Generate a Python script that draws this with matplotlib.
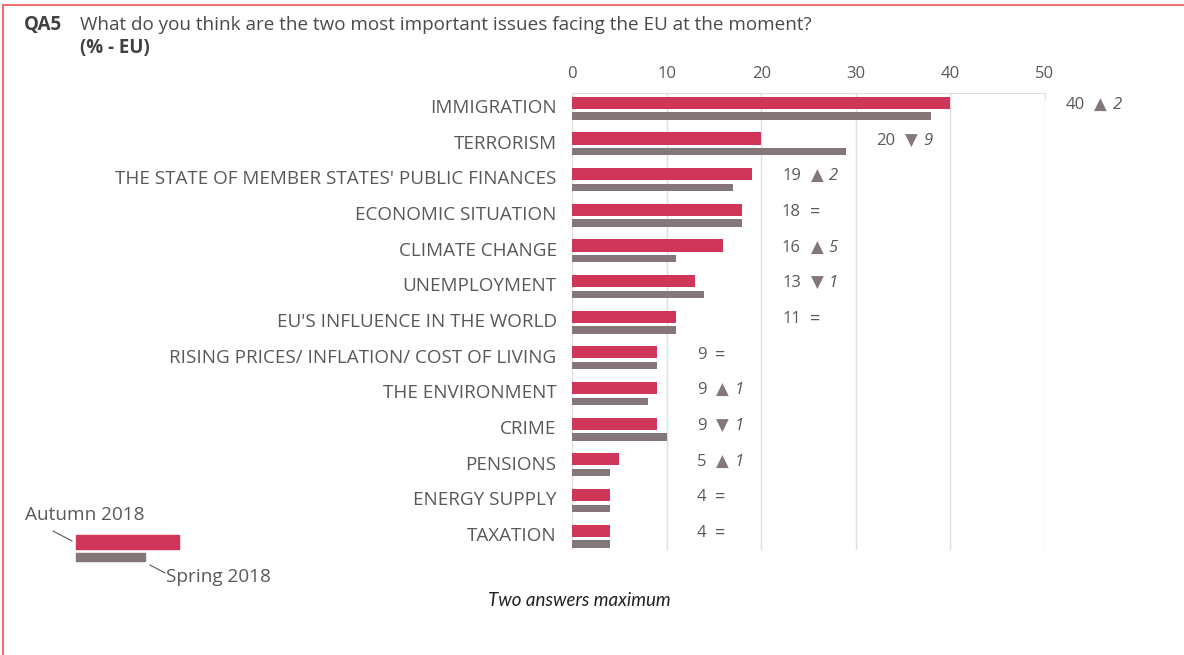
import numpy as np
import matplotlib.pyplot as plt
from matplotlib.patches import Rectangle
from matplotlib.lines import Line2D

# data
issues = ["IMMIGRATION", "TERRORISM", "THE STATE OF MEMBER STATES' PUBLIC FINANCES",
          "ECONOMIC SITUATION", "CLIMATE CHANGE", "UNEMPLOYMENT",
          "EU'S INFLUENCE IN THE WORLD", "RISING PRICES/ INFLATION/ COST OF LIVING",
          "THE ENVIRONMENT", "CRIME", "PENSIONS", "ENERGY SUPPLY", "TAXATION"]
autumn_2018 = [40, 20, 19, 18, 16, 13, 11, 9, 9, 9, 5, 4, 4]
spring_2018 = [38, 29, 17, 18, 11, 14, 11, 9, 8, 10, 4, 4, 4]
change = [2, -9, 2, 0, 5, -1, 0, 0, 1, -1, 1, 0, 0]
ticks = [0, 10, 20, 30, 40, 50]

red = "#D0365A"
grey = "#85767A"
txt = "#595959"
gridc = "#E4DCDC"

plt.rcParams['font.family'] = ['Open Sans', 'DejaVu Sans']

fig = plt.figure(figsize=(11.84, 6.55), dpi=100)
ax = fig.add_axes([572 / 1184, 1 - 550 / 655, (1045 - 572) / 1184, (550 - 93) / 655])

y = np.arange(len(issues))
ax.barh(y - 0.16, autumn_2018, height=0.34, color=red, zorder=3)
ax.barh(y + 0.21, spring_2018, height=0.2, color=grey, zorder=3)

ax.set_xlim(0, 50)
ax.set_ylim(12.38, -0.435)
ax.set_xticks(ticks)
ax.xaxis.tick_top()
ax.tick_params(axis='x', colors=gridc, labelcolor=txt, labelsize=12, length=4, direction='in', pad=8)
# labels sit slightly above the pair centre
ax.set_yticks(y - 0.07)
ax.set_yticklabels(issues)
ax.tick_params(axis='y', length=0, labelsize=13.6, labelcolor=txt, pad=11)
ax.grid(axis='x', color=gridc, linewidth=1, zorder=0)
for s in ["left", "right", "bottom"]:
    ax.spines[s].set_visible(False)
ax.spines["top"].set_color(gridc)

# value labels with change markers
for i in range(len(issues)):
    col = 10 * (autumn_2018[i] // 10 + 1) + 4.2
    ax.text(col, i - 0.1, str(autumn_2018[i]), ha='right', va='center', fontsize=12,
            color=txt, clip_on=False)
    if change[i] == 0:
        ax.annotate("=", (col, i - 0.1), xytext=(10, 0), textcoords='offset points',
                    ha='center', va='center', fontsize=13, color=txt, annotation_clip=False)
    else:
        sym = "▲" if change[i] > 0 else "▼"
        ax.annotate(sym, (col, i - 0.1), xytext=(11.5, 0), textcoords='offset points',
                    ha='center', va='center', fontsize=12, color=grey, family='DejaVu Sans',
                    annotation_clip=False)
        ax.annotate(str(abs(change[i])), (col, i - 0.1), xytext=(20, 0), textcoords='offset points',
                    ha='left', va='center', fontsize=12, color=txt, style='italic',
                    annotation_clip=False)

# title
fig.text(24 / 1184, 1 - 25 / 655, "QA5", fontsize=13.5, fontweight='bold', color="#404040", va='center')
fig.text(80 / 1184, 1 - 25 / 655, "What do you think are the two most important issues facing the EU at the moment?",
         fontsize=13.6, color="#4a4a4a", va='center')
fig.text(80 / 1184, 1 - 48 / 655, "(% - EU)", fontsize=13.5, fontweight='bold', color="#404040", va='center')

# legend
fig.patches.append(Rectangle((76 / 1184, 1 - 549 / 655), 103 / 1184, 14 / 655,
                             transform=fig.transFigure, color=red))
fig.patches.append(Rectangle((76 / 1184, 1 - 561 / 655), 69 / 1184, 8 / 655,
                             transform=fig.transFigure, color=grey))
fig.lines.append(Line2D([53 / 1184, 72 / 1184], [1 - 531 / 655, 1 - 541 / 655],
                        transform=fig.transFigure, color=txt, linewidth=0.8))
fig.lines.append(Line2D([150 / 1184, 165 / 1184], [1 - 565 / 655, 1 - 573 / 655],
                        transform=fig.transFigure, color=txt, linewidth=0.8))
fig.text(25 / 1184, 1 - 515 / 655, "Autumn 2018", fontsize=13.7, color=txt, va='center')
fig.text(166 / 1184, 1 - 577 / 655, "Spring 2018", fontsize=13.7, color=txt, va='center')

fig.text(579 / 1184, 1 - 600 / 655, "Two answers maximum", fontsize=13.5, style='italic',
         color="#222222", ha='center', va='center', family='Lato')

# frame
fig.lines.append(Line2D([3 / 1184, 3 / 1184], [0, 1 - 5 / 655], transform=fig.transFigure,
                        color="#F07070", linewidth=1.5))
fig.lines.append(Line2D([3 / 1184, 1], [1 - 5 / 655, 1 - 5 / 655], transform=fig.transFigure,
                        color="#F07070", linewidth=1.5))

plt.savefig("out.png", dpi=100)
